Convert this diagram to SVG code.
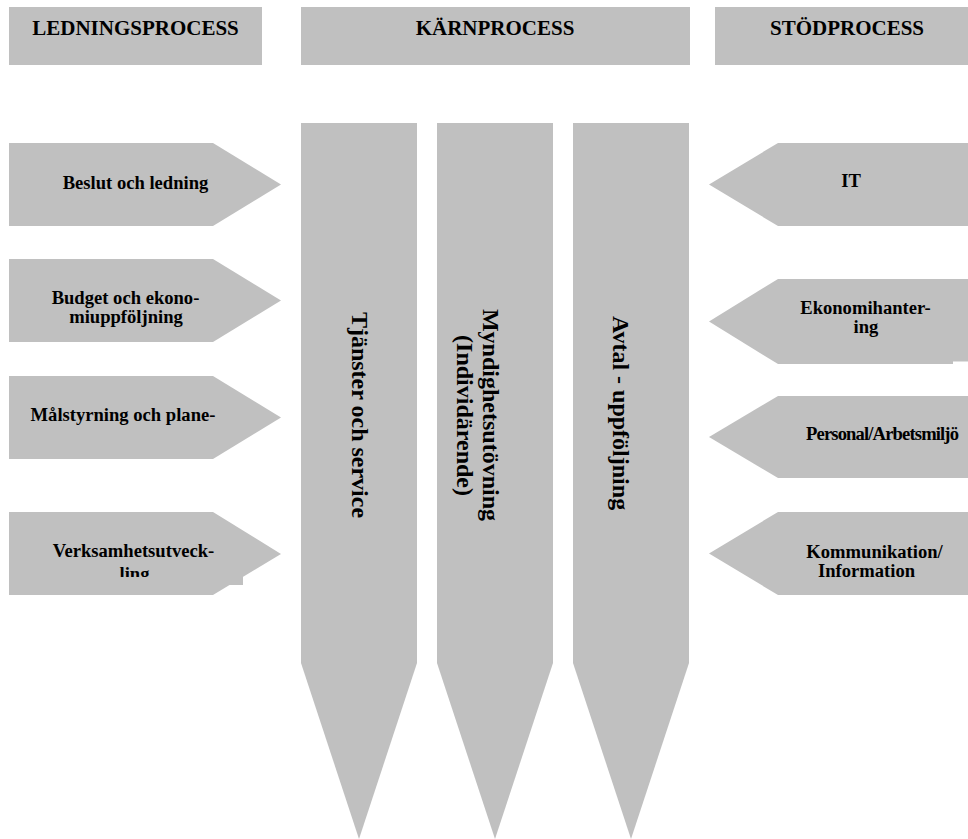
<svg xmlns="http://www.w3.org/2000/svg" width="968" height="839" viewBox="0 0 968 839">
<style>
.box{fill:#C0C0C0;stroke:none}
.hd{font-family:"Liberation Serif","Times New Roman",serif;font-weight:bold;font-size:21px;fill:#000;text-anchor:middle}
.lb{font-family:"Liberation Serif","Times New Roman",serif;font-weight:bold;font-size:18.6px;fill:#000;text-anchor:middle}
.col{font-family:"Liberation Serif","Times New Roman",serif;font-weight:bold;font-size:24px;fill:#000;text-anchor:middle}
</style>
<defs>
<clipPath id="clipLing"><rect x="9" y="500" width="240" height="77"/></clipPath>
</defs>
<rect width="968" height="839" fill="#fff"/>
<g id="header-ledning">
<rect class="box" x="9" y="7" width="253" height="58"/>
<text class="hd" x="135.5" y="35">LEDNINGSPROCESS</text>
</g>
<g id="header-karn">
<rect class="box" x="301" y="7" width="389" height="58"/>
<text class="hd" x="495" y="35">KÄRNPROCESS</text>
</g>
<g id="header-stod">
<rect class="box" x="715" y="7" width="253" height="58"/>
<text class="hd" x="847" y="35">STÖDPROCESS</text>
</g>
<g id="col-tjanster">
<polygon class="box" points="301,123 417,123 417,663 359,839 301,663"/>
<text class="col" transform="translate(352,415) rotate(90)">Tjänster och service</text>
</g>
<g id="col-myndighet">
<polygon class="box" points="437,123 553,123 553,663 495,839 437,663"/>
<text class="col" transform="translate(483,415) rotate(90)">Myndighetsutövning</text>
<text class="col" transform="translate(457,415.5) rotate(90)">(Individärende)</text>
</g>
<g id="col-avtal">
<polygon class="box" points="573,123 689,123 689,663 631,839 573,663"/>
<text class="col" transform="translate(613,413) rotate(90)">Avtal - uppföljning</text>
</g>
<g id="l-beslut">
<polygon class="box" points="9,143 213,143 281,184.5 213,226 9,226"/>
<text class="lb" x="135.5" y="189">Beslut och ledning</text>
</g>
<g id="l-budget">
<polygon class="box" points="9,259 213,259 281,300.5 213,342 9,342"/>
<text class="lb" x="125.5" y="304">Budget och ekono-</text>
<text class="lb" x="126" y="323">miuppföljning</text>
</g>
<g id="l-malstyrning">
<polygon class="box" points="9,376 213,376 281,417.5 213,459 9,459"/>
<text class="lb" x="123" y="421">Målstyrning och plane-</text>
</g>
<g id="l-verksamhet">
<polygon class="box" points="9,512 213,512 281,554 213,595 9,595"/>
<rect class="box" x="9" y="540" width="234" height="45"/>
<text class="lb" x="133.5" y="557">Verksamhetsutveck-</text>
<text class="lb" x="134.5" y="580" clip-path="url(#clipLing)">ling</text>
</g>
<g id="r-it">
<polygon class="box" points="968,143 778,143 709,184.5 778,226 968,226"/>
<text class="lb" x="851" y="187">IT</text>
</g>
<g id="r-ekonomi">
<polygon class="box" points="968,279 778,279 709,321.5 778,364 968,364"/>
<rect x="953" y="361.5" width="15" height="4" fill="#fff"/>
<text class="lb" x="865.5" y="314">Ekonomihanter-</text>
<text class="lb" x="866" y="333">ing</text>
</g>
<g id="r-personal">
<polygon class="box" points="968,396 778,396 709,437 778,478 968,478"/>
<text class="lb" x="882.5" y="440" textLength="153" lengthAdjust="spacing">Personal/Arbetsmiljö</text>
</g>
<g id="r-kommunikation">
<polygon class="box" points="968,512 778,512 709,553.5 778,595 968,595"/>
<text class="lb" x="874.5" y="557.5">Kommunikation/</text>
<text class="lb" x="866.5" y="576.5">Information</text>
</g>
<g id="connectors"/>
</svg>
